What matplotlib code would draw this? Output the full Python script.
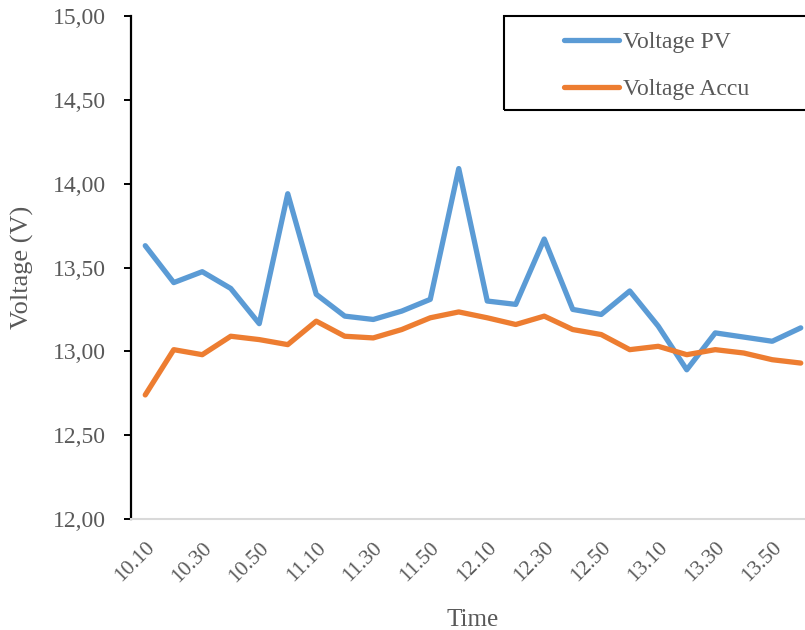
import matplotlib.pyplot as plt
from matplotlib.patches import Rectangle
from matplotlib.transforms import ScaledTranslation

# time stamps every 10 minutes, 10.10 .. 14.00
times = ["10.10", "10.20", "10.30", "10.40", "10.50", "11.00", "11.10", "11.20",
         "11.30", "11.40", "11.50", "12.00", "12.10", "12.20", "12.30", "12.40",
         "12.50", "13.00", "13.10", "13.20", "13.30", "13.40", "13.50", "14.00"]
voltage_pv = [13.63, 13.41, 13.475, 13.375, 13.165, 13.94, 13.34, 13.21,
              13.19, 13.24, 13.31, 14.09, 13.30, 13.28, 13.67, 13.25,
              13.22, 13.36, 13.15, 12.89, 13.11, 13.085, 13.06, 13.14]
voltage_accu = [12.74, 13.01, 12.98, 13.09, 13.07, 13.04, 13.18, 13.09,
                13.08, 13.13, 13.20, 13.235, 13.20, 13.16, 13.21, 13.13,
                13.10, 13.01, 13.03, 12.98, 13.01, 12.99, 12.95, 12.93]
yticks = [12.0, 12.5, 13.0, 13.5, 14.0, 14.5, 15.0]
ytick_labels = ["12,00", "12,50", "13,00", "13,50", "14,00", "14,50", "15,00"]

plt.rcParams['font.family'] = ['Liberation Serif', 'DejaVu Serif']
grey = '#595959'

W, H = 805, 630
fig = plt.figure(figsize=(W / 100, H / 100), dpi=100)
# axes run past the right edge of the picture, as in the reference
ax = fig.add_axes([131 / W, 111 / H, 684 / W, 503 / H])

x = list(range(len(times)))
ax.plot(x, voltage_pv, color='#5B9BD5', lw=3.8, solid_capstyle='round',
        solid_joinstyle='round', label='Voltage PV')
ax.plot(x, voltage_accu, color='#ED7D31', lw=3.8, solid_capstyle='round',
        solid_joinstyle='round', label='Voltage Accu')

ax.set_xlim(-0.5, len(times) - 0.5)
ax.set_ylim(12, 15)
ax.set_yticks(yticks)
ax.set_yticklabels(ytick_labels)
ax.set_xticks(x[::2])
ax.set_xticklabels(times[::2], rotation=45, ha='right', va='top',
                   rotation_mode='anchor')
shift = ScaledTranslation(4 / 100, 0, fig.dpi_scale_trans)
for lbl in ax.get_xticklabels():
    lbl.set_transform(lbl.get_transform() + shift)

ax.spines['top'].set_visible(False)
ax.spines['right'].set_visible(False)
ax.spines['left'].set_color('black')
ax.spines['left'].set_linewidth(1.6)
ax.spines['bottom'].set_color('#D9D9D9')
ax.spines['bottom'].set_linewidth(1.5)
ax.tick_params(axis='y', direction='out', length=5, width=1.4, color='black',
               pad=13, labelsize=17, labelcolor=grey)
ax.tick_params(axis='x', length=0, pad=14, labelsize=15.5, labelcolor=grey)

ax.set_xlabel('Time', fontsize=18, color=grey)
ax.xaxis.set_label_coords(0.5, -0.178)
ax.set_ylabel('Voltage (V)', fontsize=19, color=grey)
ax.yaxis.set_label_coords(-0.142, 0.5)

# legend box, cut off by the right edge like the reference
fig.patches.append(Rectangle((504 / W, 1 - 110 / H), 330 / W, 94 / H,
                             transform=fig.transFigure, fill=False,
                             edgecolor='black', lw=1.5))
ax.legend(loc='upper left', bbox_to_anchor=(543 / W, 1 - 10 / H),
          bbox_transform=fig.transFigure, frameon=False, fontsize=17,
          labelcolor=grey, handlelength=2.3, handletextpad=0.2,
          labelspacing=1.1)

fig.savefig('out.png', dpi=100)
